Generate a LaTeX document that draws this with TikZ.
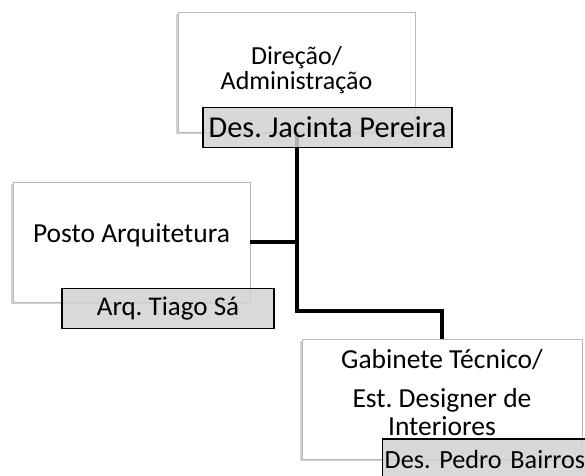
\documentclass[tikz,border=0pt]{standalone}
\usepackage{fontspec}
\setmainfont{Carlito}
\frenchspacing
\usetikzlibrary{positioning,shadows}
\newcommand{\fsz}[2]{\fontsize{#1}{#2}\selectfont}
\tikzset{
unit/.style = {draw=gray!55, fill=white, rectangle, line width=0.7pt, align=center,
  font=\fsz{27.5}{25},
  drop shadow={shadow xshift=-2pt, shadow yshift=-2pt, fill=gray!70, opacity=.5}},
person/.style = {draw=black, fill=gray!35, fill opacity=.85, text opacity=1, rectangle,
  line width=1.3pt, minimum height=40pt, inner sep=0pt, font=\fsz{28}{28}},
conn/.style = {draw, line width=4pt, line join=miter}
}
\begin{document}
\begin{tikzpicture}[x=1pt, y=-1pt]
  \clip (0,0) rectangle (585,475);
  \node [unit, minimum width=237pt, minimum height=120pt, text depth=8pt, font=\fsz{26}{25}] (direcao) at (296.5,72)
    {Direção/\\Administração};
  \node [unit, minimum width=237pt, minimum height=120pt, text depth=17pt] (posto) at (131.5,242)
    {Posto Arquitetura};
  \node [unit, minimum width=280pt, minimum height=120pt, text depth=14pt] (gabinete) at (442,399)
    {Gabinete Técnico/\\[14pt]Est. Designer de\\[3pt]Interiores};

  \coordinate (jpost) at (direcao.south |- posto.east);
  \coordinate (jgab)  at (direcao.south |- 0,311);
  \draw [conn] (direcao.south) -- (jgab) -| (gabinete.north);
  \draw [conn] (posto.east) -- (jpost);

  \node [person, minimum width=249pt, font=\fsz{30.3}{30}] (jacinta) at (327.5,127.5) {Des. Jacinta Pereira};
  \node [person, minimum width=212pt, font=\fsz{27}{27}]   (tiago)   at (168,308.5)   {Arq. Tiago Sá};
  \node [person, minimum width=230pt, anchor=west, text width=226pt, align=left, font=\fsz{26.2}{26}] (pedro) at (382,459)
    {Des. Pedro Bairros};
\end{tikzpicture}
\end{document}
